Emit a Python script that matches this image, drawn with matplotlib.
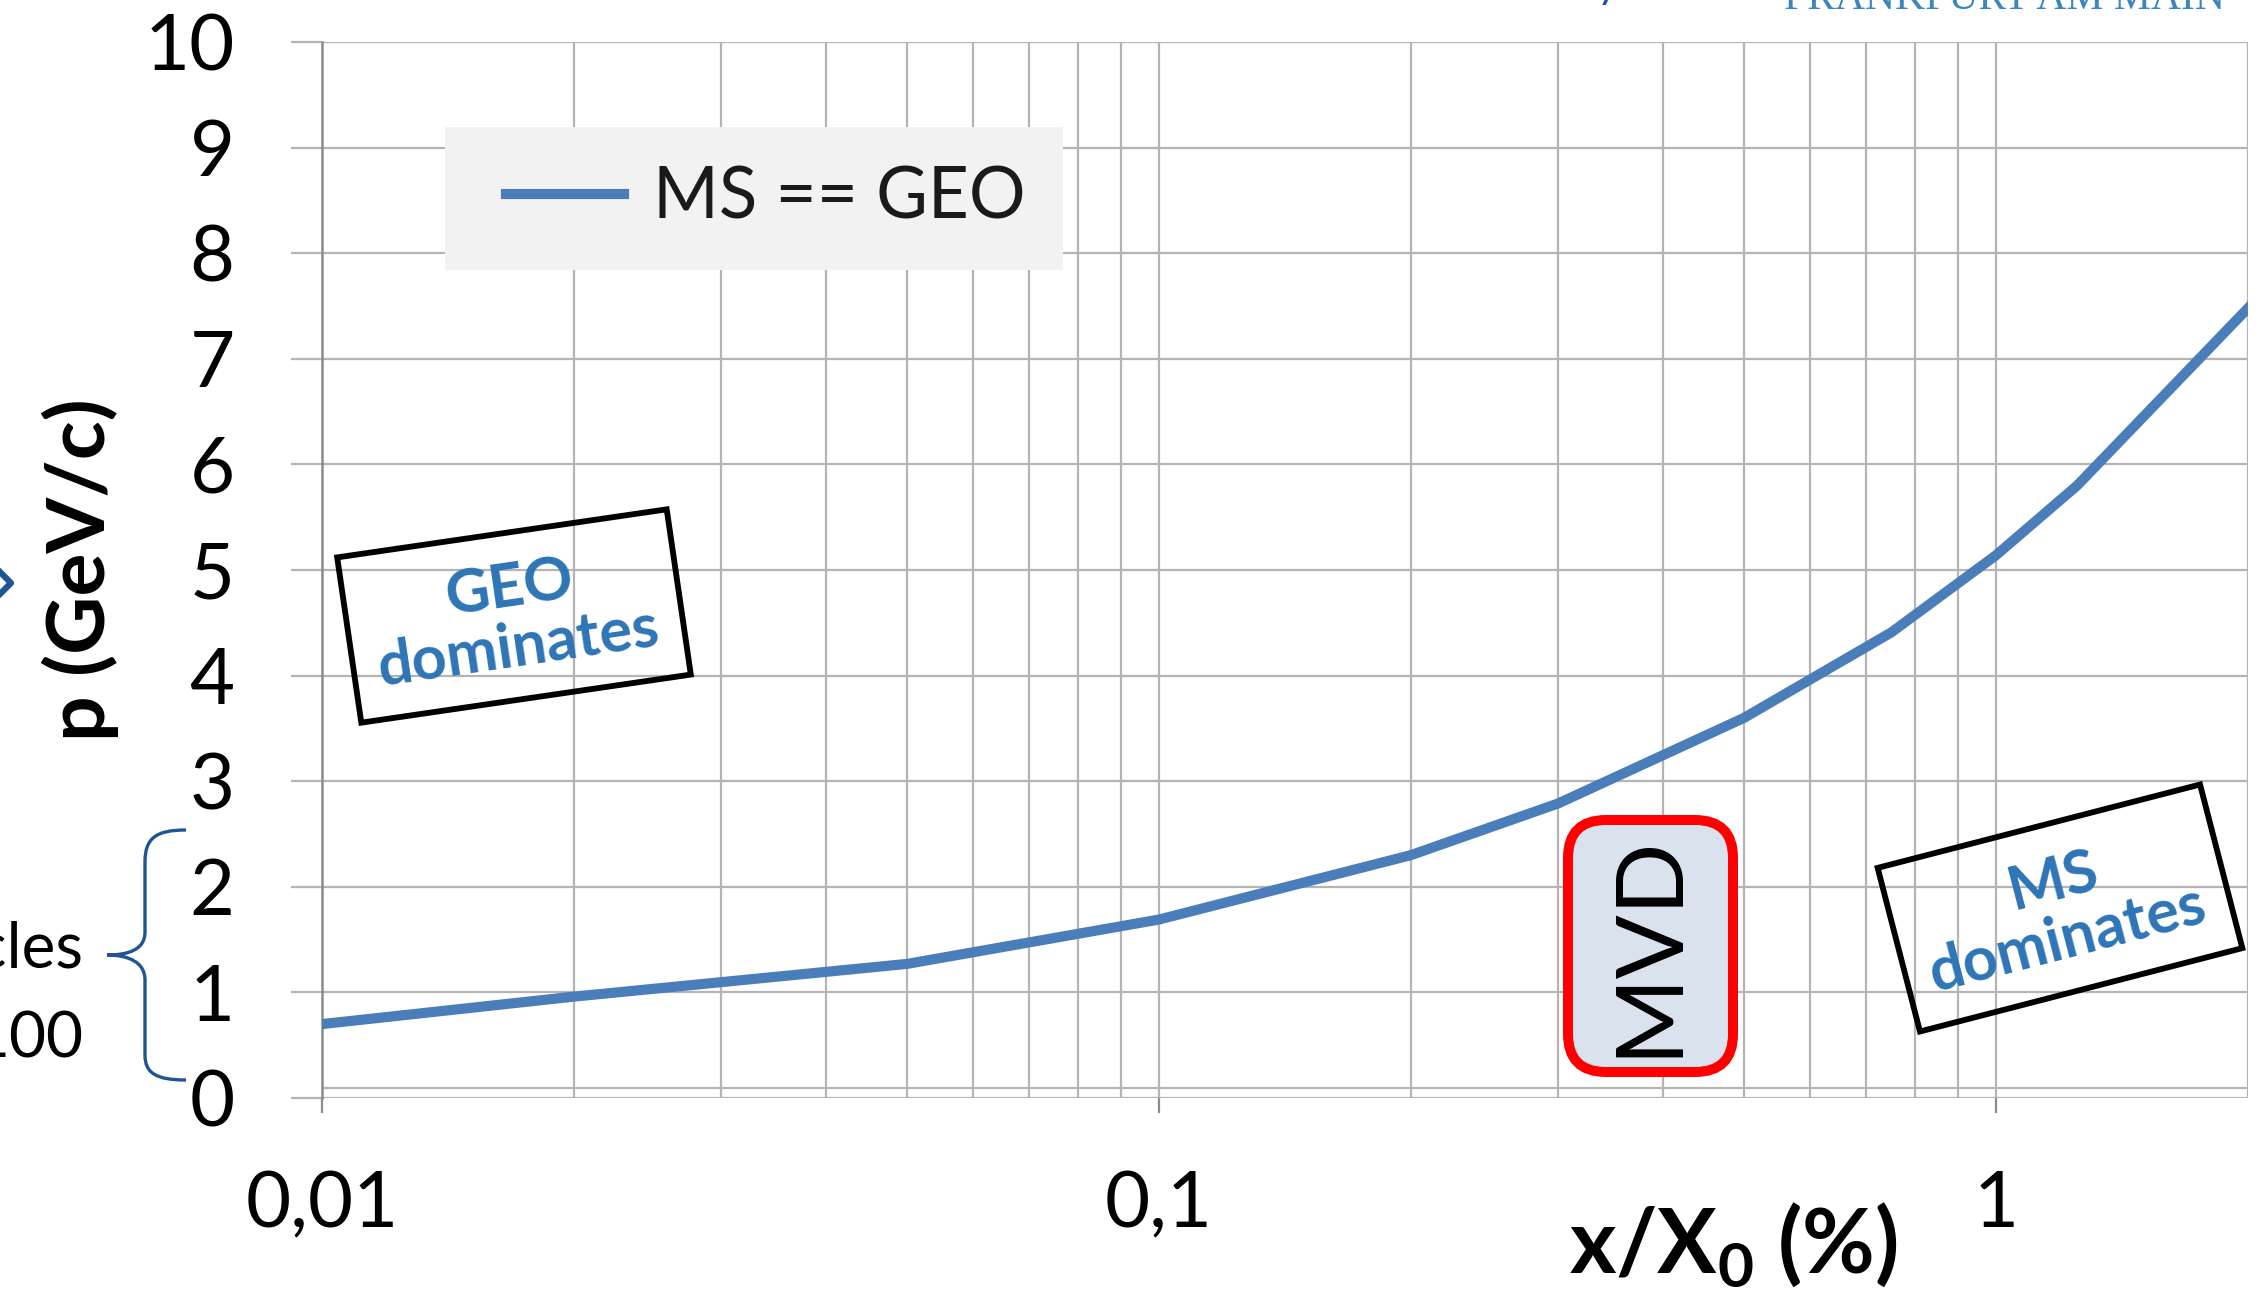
import matplotlib
matplotlib.use("Agg")
import matplotlib.pyplot as plt
from matplotlib.patches import Rectangle, FancyBboxPatch, PathPatch
from matplotlib.path import Path
from matplotlib.lines import Line2D
from matplotlib.ticker import LogLocator, NullFormatter

plt.rcParams["font.family"] = ["Lato", "DejaVu Sans"]
plt.rcParams["mathtext.fontset"] = "custom"
plt.rcParams["mathtext.rm"] = "Lato:bold"
plt.rcParams["mathtext.bf"] = "Lato:bold"

# MS == GEO curve
THICKNESS = [0.01, 0.02, 0.05, 0.1, 0.2, 0.3, 0.5, 0.75, 1.0, 1.25, 2.0]
MOMENTUM = [0.70, 0.96, 1.27, 1.69, 2.30, 2.79, 3.60, 4.41, 5.14, 5.80, 7.48]
SERIES_LABEL = "MS == GEO"
X_TICKS = [0.01, 0.1, 1]
X_TICK_LABELS = ["0,01", "0,1", "1"]
Y_TICKS = list(range(0, 11))
X_LIM = (0.01, 2.0)
Y_LIM = (0, 10)

W, H = 2265, 1297
BLUE = "#4a7ebb"
TEXT_BLUE = "#2e75b6"
GRID = "#b4b4b4"
AXIS = "#8c8c8c"


def px(x, y):
    # output pixel (y down) -> inches for fig.dpi_scale_trans
    return x / 100, (H - y) / 100


fig = plt.figure(figsize=(W / 100, H / 100), dpi=100, facecolor="white")
ax = fig.add_axes([322 / W, 1 - 1098 / H, (2248 - 322) / W, (1098 - 42) / H])

ax.plot(THICKNESS, MOMENTUM, color=BLUE, linewidth=7.3, label=SERIES_LABEL,
        solid_joinstyle="round", zorder=3)
ax.set_xscale("log")
ax.set_xlim(*X_LIM)
ax.set_ylim(*Y_LIM)
ax.set_xticks(X_TICKS, labels=X_TICK_LABELS)
ax.xaxis.set_minor_locator(LogLocator(base=10, subs=range(2, 10)))
ax.xaxis.set_minor_formatter(NullFormatter())
ax.set_yticks(Y_TICKS)

ax.grid(which="major", axis="both", color=GRID, linewidth=1.6, zorder=0)
ax.grid(which="minor", axis="x", color=GRID, linewidth=1.6, zorder=0)
ax.axhline(0.095, color=GRID, linewidth=1.6, zorder=1)
ax.set_axisbelow(True)
for side in ("top", "right", "bottom"):
    ax.spines[side].set_visible(False)
ax.spines["left"].set_color(AXIS)
ax.spines["left"].set_linewidth(1.8)

ax.tick_params(axis="y", which="major", length=22, width=1.6, color=GRID,
               pad=41, labelsize=56, labelcolor="black")
ax.tick_params(axis="x", which="major", length=11, width=1.6, color=AXIS,
               pad=41, labelsize=56, labelcolor="black")
ax.tick_params(axis="x", which="minor", length=0)

ax.set_ylabel("p (GeV/c)", fontsize=58, fontweight="bold", va="center")
ax.yaxis.set_label_coords((80 - 322) / 1926, 0.5)
ax.set_xlabel(r"x/X$_\mathbf{0}$ (%)", fontsize=64, fontweight="bold", va="baseline")
ax.xaxis.set_label_coords((1733 - 322) / 1926, (1098 - 1273) / 1056)

# legend with light gray panel
fig.add_artist(Rectangle(px(445, 270), 618 / 100, 143 / 100, transform=fig.dpi_scale_trans,
                         facecolor="#f2f2f2", edgecolor="none", zorder=2))
fig.legend(loc="center left", bbox_to_anchor=(506 / W, 1 - 198 / H), frameon=False,
           fontsize=51, handlelength=1.66, handletextpad=0.42, borderpad=0,
           borderaxespad=0, labelcolor="#1a1a1a").set_zorder(4)

# rotated annotation boxes
for (cx, cy, w, h, ang, label) in [(514, 616, 333, 167, 8.3, "GEO\ndominates"),
                                   (2060, 908, 333, 169, 14.5, "MS\ndominates")]:
    x0, y0 = px(cx - w / 2, cy + h / 2)
    fig.add_artist(Rectangle((x0, y0), w / 100, h / 100, angle=ang, rotation_point="center",
                             transform=fig.dpi_scale_trans, fill=False,
                             edgecolor="black", linewidth=4.2, zorder=3))
    fig.text(*px(cx, cy + 2), label, transform=fig.dpi_scale_trans, rotation=ang,
             rotation_mode="anchor", ha="center", va="center", multialignment="center",
             color=TEXT_BLUE, fontsize=44, fontweight="bold", linespacing=1.1, zorder=4)

# MVD rounded box
fig.add_artist(FancyBboxPatch(px(1568, 1072), 165 / 100, 252 / 100,
                              boxstyle="round,pad=0,rounding_size=0.38",
                              transform=fig.dpi_scale_trans, facecolor="#dae3ed",
                              edgecolor="#ff0000", linewidth=7.2, zorder=3))
fig.text(*px(1649, 945), "MVD", transform=fig.dpi_scale_trans, rotation=90,
         rotation_mode="anchor", ha="center", va="center", fontsize=68,
         color="black", zorder=4)

# curly brace on the left
pts = [(186, 830), (156, 830), (145, 838), (145, 862),
       (145, 932),
       (145, 950), (128, 955), (107, 955),
       (128, 955), (145, 962), (145, 980),
       (145, 1055),
       (145, 1073), (156, 1080), (186, 1080)]
codes = [Path.MOVETO, Path.CURVE4, Path.CURVE4, Path.CURVE4,
         Path.LINETO,
         Path.CURVE4, Path.CURVE4, Path.CURVE4,
         Path.CURVE4, Path.CURVE4, Path.CURVE4,
         Path.LINETO,
         Path.CURVE4, Path.CURVE4, Path.CURVE4]
fig.add_artist(PathPatch(Path([px(x, y) for x, y in pts], codes), transform=fig.dpi_scale_trans,
                         fill=False, edgecolor="#1f5597", linewidth=2.4))
fig.text(*px(84, 968), "particles", transform=fig.dpi_scale_trans, ha="right",
         va="baseline", fontsize=46, color="black")
fig.text(*px(84, 1058), "100", transform=fig.dpi_scale_trans, ha="right",
         va="baseline", fontsize=46, color="black")
chev = [px(-6, 566), px(11, 583), px(-6, 600)]
fig.add_artist(Line2D([p[0] for p in chev], [p[1] for p in chev], transform=fig.dpi_scale_trans,
                      color="#1f5597", linewidth=4.5))

# slide header, mostly outside the frame
fig.text(*px(2225, 9), "FRANKFURT AM MAIN", transform=fig.dpi_scale_trans, ha="right",
         va="baseline", fontsize=30, color="#3a86bd", family="Liberation Serif")
fig.text(*px(1618, -2), "y", transform=fig.dpi_scale_trans, ha="right",
         va="baseline", fontsize=30, color="#1f5597")

fig.savefig("out.png", dpi=100, facecolor="white")
